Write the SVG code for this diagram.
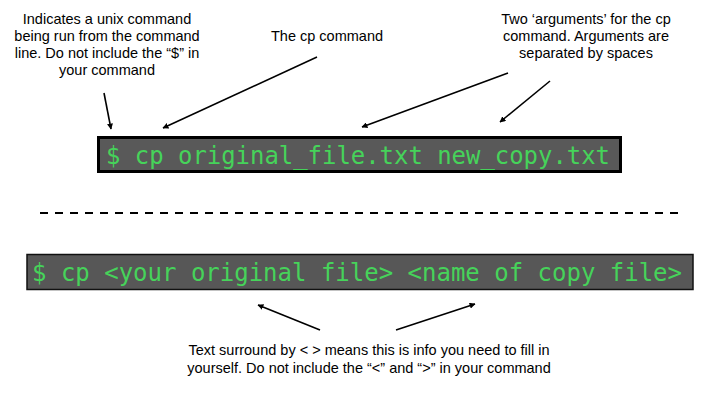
<svg xmlns="http://www.w3.org/2000/svg" width="720" height="405" viewBox="0 0 720 405">
<style>
.lbl{font-family:"Liberation Sans",Arial,sans-serif;font-size:14.5px;fill:#000;text-anchor:middle}
.cmd{font-family:"DejaVu Sans Mono","Liberation Mono",monospace;fill:#46d35a}
.conn{stroke:#000;stroke-width:1.6;fill:none;marker-end:url(#ah)}
</style>
<defs>
<marker id="ah" viewBox="0 0 10 10" refX="9" refY="5" markerWidth="6" markerHeight="6" markerUnits="userSpaceOnUse" orient="auto">
<path d="M0,0 L10,5 L0,10 z" fill="#000"/>
</marker>
</defs>
<rect width="720" height="405" fill="#fff"/>
<g id="label-dollar">
<text class="lbl" x="107" y="24">Indicates a unix command</text>
<text class="lbl" x="107" y="41">being run from the command</text>
<text class="lbl" x="107" y="58">line. Do not include the “$” in</text>
<text class="lbl" x="107" y="75">your command</text>
</g>
<g id="label-cp">
<text class="lbl" x="327" y="41">The cp command</text>
</g>
<g id="label-args">
<text class="lbl" x="586" y="24">Two ‘arguments’ for the cp</text>
<text class="lbl" x="586" y="41">command. Arguments are</text>
<text class="lbl" x="586" y="58">separated by spaces</text>
</g>
<g id="cmd-example">
<rect x="98.5" y="137.5" width="522" height="34" fill="#595959" stroke="#000" stroke-width="3"/>
<text class="cmd" x="106" y="163.5" font-size="25" textLength="504" lengthAdjust="spacingAndGlyphs">$ cp original_file.txt new_copy.txt</text>
</g>
<g id="separator">
<line x1="40" y1="213" x2="680" y2="213" stroke="#000" stroke-width="2" stroke-dasharray="8,7"/>
</g>
<g id="cmd-template">
<rect x="27" y="254.5" width="666" height="35" fill="#575757" stroke="#111" stroke-width="1.5"/>
<text class="cmd" x="32" y="281" font-size="24.5" textLength="650" lengthAdjust="spacingAndGlyphs">$ cp &lt;your original file&gt; &lt;name of copy file&gt;</text>
</g>
<g id="label-brackets">
<text class="lbl" x="369" y="355" font-size="15">Text surround by &lt; &gt; means this is info you need to fill in</text>
<text class="lbl" x="369" y="373" font-size="15">yourself. Do not include the “&lt;” and “&gt;” in your command</text>
</g>
<g id="connectors">
<line class="conn" x1="104" y1="93" x2="111" y2="129"/>
<line class="conn" x1="317" y1="57" x2="163" y2="128"/>
<line class="conn" x1="508" y1="73" x2="362" y2="127"/>
<line class="conn" x1="550" y1="81" x2="500" y2="122"/>
<line class="conn" x1="320" y1="330" x2="258" y2="305"/>
<line class="conn" x1="396" y1="330" x2="475" y2="304"/>
</g>
</svg>
